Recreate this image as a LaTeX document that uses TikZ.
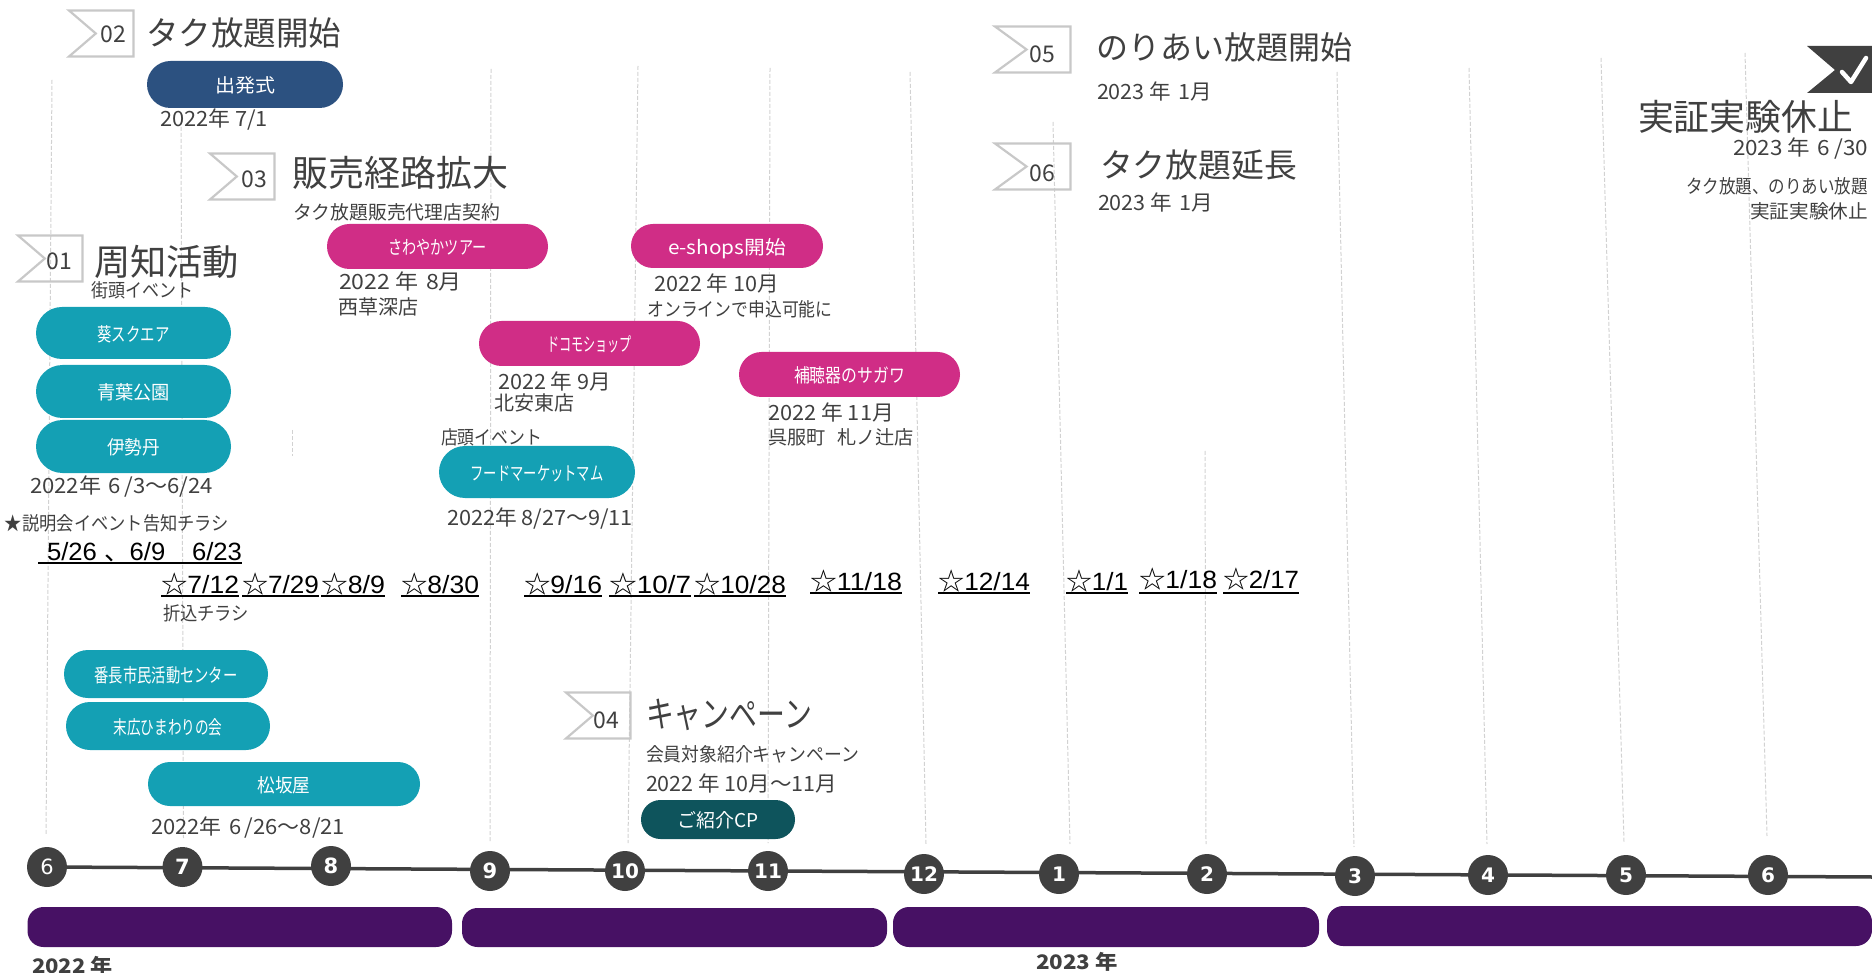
\documentclass[tikz,border=0pt]{standalone}
\usepackage{fontspec}
\usetikzlibrary{backgrounds}
\setmainfont{Noto Sans CJK JP}
\newfontfamily\arialf{Liberation Sans}
\newfontfamily\dejaf{DejaVu Sans}
\definecolor{ink}{HTML}{404040}
\definecolor{guidec}{HTML}{D2D2D2}
\definecolor{flagc}{HTML}{C8C8C8}
\definecolor{tealc}{HTML}{14A0B4}
\definecolor{pinkc}{HTML}{D02D86}
\definecolor{navyc}{HTML}{2C5180}
\definecolor{darktealc}{HTML}{0E545C}
\definecolor{purplec}{HTML}{471164}
\tikzset{
  txt/.style={inner sep=0pt,outer sep=0pt,text=ink,anchor=west},
  guide/.style={draw=guidec,line width=1pt,dash pattern=on 4pt off 2pt},
  flagline/.style={draw=flagc,line width=2.2pt,miter limit=10},
  axisline/.style={draw=ink,line width=3.5pt},
  monthdot/.style={circle,fill=ink,draw=none,minimum size=40pt,inner sep=0pt,outer sep=0pt,text=white},
  pillbase/.style={inner sep=0pt,outer sep=0pt,text=white,draw=none},
  ulrule/.style={draw=black,line width=1.3pt},
}
% name, left x, centre y, width, size, text
\newcommand{\mylab}[6]{\node[txt,yshift=-1pt] (#1) at (#2,#3) {\resizebox{#4pt}{\height}{\fontsize{#5}{#5}\selectfont\vphantom{漢}#6}};}
% name, colour, x1,y1,x2,y2, text width, text
\newcommand{\mypill}[8]{%
  \pgfmathsetmacro{\pw}{#5-#3}\pgfmathsetmacro{\ph}{#6-#4}%
  \pgfmathsetmacro{\pr}{\ph/2-0.01}\pgfmathsetmacro{\pcx}{(#3+#5)/2}\pgfmathsetmacro{\pcy}{(#4+#6)/2}%
  \node[pillbase,fill=#2,minimum width=\pw pt,minimum height=\ph pt,rounded corners=\pr pt] (#1) at (\pcx,\pcy)
    {\smash{\raisebox{-8.2pt}{\resizebox{#7pt}{\height}{\fontsize{19}{19}\selectfont\vphantom{漢}#8}}}};}
% name, x1,y1,x2,y2
\newcommand{\mybar}[5]{%
  \pgfmathsetmacro{\pw}{#4-#2}\pgfmathsetmacro{\ph}{#5-#3}%
  \pgfmathsetmacro{\pr}{\ph/2-4}\pgfmathsetmacro{\pcx}{(#2+#4)/2}\pgfmathsetmacro{\pcy}{(#3+#5)/2}%
  \node[pillbase,fill=purplec,minimum width=\pw pt,minimum height=\ph pt,rounded corners=\pr pt] (#1) at (\pcx,\pcy) {};}
% name, x1, x2, y1, number x, number y, number
\newcommand{\myflag}[7]{%
  \pgfmathsetmacro{\fa}{#2+2}\pgfmathsetmacro{\fn}{#2+0.43*(#3-#2)}\pgfmathsetmacro{\fy}{#4+46.5}\pgfmathsetmacro{\fm}{#4+23.5}%
  \draw[flagline] (\fa,#4+0.5) -- (#3-0.5,#4+0.5) -- (#3-0.5,\fy) -- (\fa,\fy) -- (\fn,\fm) -- cycle;
  \node[txt,anchor=center] (#1) at (#5,#6) {\fontsize{23}{23}\selectfont #7};}
% name, x1, x2, centre y, rule y, text
\newcommand{\myul}[6]{%
  \pgfmathsetmacro{\uw}{#3-#2}%
  \node[txt,text=black] (#1) at (#2,#4) {\resizebox{\uw pt}{\height}{\fontsize{25}{25}\selectfont\vphantom{漢}#6}};
  \draw[ulrule] (#2,#5) -- (#3,#5);}
\begin{document}
\begin{tikzpicture}[x=1pt,y=-1pt]
\useasboundingbox (0,0) rectangle (1872,973);
% guide lines
\foreach \n/\xa/\ya/\xb/\yb in {a/52/80/46/835,b/181/127/183.5/838,c/292/430/292/456,d/491/69/490/842,e/638/66/628/843,f/770/68/768/843,g/910/72/926/844,h/1053/122/1070/844,i/1205/451/1206/844,j/1337/72/1354/847,k/1469/68/1487/844,l/1601/58/1624/842,m/1745/53/1767/836}{
  \coordinate (gt\n) at (\xa,\ya);
  \coordinate (gb\n) at (\xb,\yb);
  \draw[guide] (gt\n) -- (gb\n);
}
% flags and titles
\myflag{f02}{67}{134}{10}{113}{34}{02}
\mylab{t02}{146}{32}{195}{33}{タク放題開始}
\mypill{p1}{navyc}{147}{61}{343}{108}{60}{出発式}
\mylab{d02}{160}{119}{108}{21}{2022年 7/1}

\myflag{f03}{208}{275}{153}{254}{179}{03}
\mylab{t03}{292}{172}{216}{36}{販売経路拡大}
\mylab{s03}{293}{211}{207}{19}{タク放題販売代理店契約}
\mypill{p2}{pinkc}{327}{224}{548}{269}{98}{さわやかツアー}
\mylab{d2}{339}{281}{123}{21}{2022 年\,\,8月}
\mylab{n2}{338}{306}{80}{20}{西草深店}

\myflag{f01}{16}{83}{235}{59}{261}{01}
\mylab{t01}{94}{261}{145}{36}{周知活動}
\mylab{s01}{91}{289}{102}{19}{街頭イベント}
\mypill{p3}{tealc}{36}{307}{231}{359}{72}{葵スクエア}
\mypill{p4}{tealc}{36}{365}{231}{418}{73}{青葉公園}
\mypill{p5}{tealc}{36}{420}{231}{473}{53}{伊勢丹}
\mylab{d3}{30}{486}{183}{21}{2022年\,\,6\,/3～6/24}
\mylab{s3}{5}{522}{224}{19}{★説明会イベント告知チラシ}

\myul{u0}{47}{242}{551}{563}{{\arialf 5/26 }、{\arialf 6/9}\hspace{26pt}{\arialf 6/23}}
\draw[ulrule] (38,563) -- (47,563);
\myul{u1}{161}{239}{584}{596}{☆{\arialf 7/12}}
\myul{u2}{242}{319}{584}{596}{☆{\arialf 7/29}}
\myul{u3}{321}{385}{584}{596}{☆{\arialf 8/9}}
\myul{u4}{401}{479}{584}{596}{☆{\arialf 8/30}}
\myul{u5}{524}{602}{584}{596}{☆{\arialf 9/16}}
\myul{u6}{609}{691}{584}{596}{☆{\arialf 10/7}}
\myul{u7}{694}{786}{584}{596}{☆{\arialf 10/28}}
\myul{u8}{810}{902}{581}{593}{☆{\arialf 11/18}}
\myul{u9}{938}{1030}{581}{593}{☆{\arialf 12/14}}
\myul{u10}{1066}{1128}{581}{593}{☆{\arialf 1/1}}
\myul{u11}{1139}{1217}{579}{593}{☆{\arialf 1/18}}
\myul{u12}{1223}{1299}{579}{593}{☆{\arialf 2/17}}
\mylab{s4}{163}{612}{86}{19}{折込チラシ}

\mypill{p6}{tealc}{64}{650}{268}{698}{143}{番長市民活動センター}
\mypill{p7}{tealc}{66}{702}{270}{750}{109}{末広ひまわりの会}
\mypill{p8}{tealc}{148}{762}{420}{806}{53}{松坂屋}
\mylab{d8}{151}{827}{194}{21}{2022年\,\,6\,/26～8/21}

\mypill{p9}{pinkc}{631}{224}{823}{268}{118}{e-shops開始}
\mylab{d9}{654}{283}{125}{21}{2022 年 10月}
\mylab{n9}{647.5}{308}{185}{19}{オンラインで申込可能に}
\mypill{p10}{pinkc}{479}{321}{700}{366}{85}{ドコモショップ}
\mylab{d10}{498}{381}{113}{21}{2022 年 9月}
\mylab{n10}{494}{402}{80}{20}{北安東店}
\mylab{s10}{441}{436}{101}{19}{店頭イベント}
\mypill{p11}{tealc}{439}{446}{635}{498}{133}{フードマーケットマム}
\mylab{d11}{447}{518}{186}{21}{2022年 8/27～9/11}
\mypill{p12}{pinkc}{739}{352}{960}{397}{111}{補聴器のサガワ}
\mylab{d12}{768}{411}{126}{21}{2022 年 11月}
\mylab{n12}{768}{436}{146}{19}{呉服町\hspace{.6em}札ノ辻店}

\myflag{f04}{564}{631}{692}{606}{720}{04}
\mylab{t04}{646}{713}{166}{36}{キャンペーン}
\mylab{s04}{646}{753}{213}{19}{会員対象紹介キャンペーン}
\mylab{d04}{646}{782}{191}{21}{2022 年 10月～11月}
\mypill{p13}{darktealc}{641}{800}{795}{839}{81}{ご紹介CP}

\myflag{f05}{993}{1071}{26}{1042}{54}{05}
\mylab{t05}{1096}{46}{256}{32}{のりあい放題開始}
\mylab{d05}{1097}{91}{115}{21}{2023 年\,\,1月}
\myflag{f06}{993}{1071}{143}{1042}{173}{06}
\mylab{t06}{1100}{164}{197}{33}{タク放題延長}
\mylab{d06}{1098}{202}{115}{21}{2023 年\,\,1月}

% end flag with tick
\fill[ink] (1807,46) -- (1872,46) -- (1872,93) -- (1807,93) -- (1835,70) -- cycle;
\draw[white,line width=4.5pt,line cap=round,line join=round] (1842,72) -- (1851,82) -- (1866,58);
\mylab{t07}{1638}{116}{215}{36}{実証実験休止}
\mylab{d07}{1733}{148}{135}{21}{2023 年\,\,6\,/30}
\mylab{s07}{1686}{185}{182}{19}{タク放題、のりあい放題}
\mylab{s08}{1750}{210}{118}{19}{実証実験休止}

% time axis
\node[monthdot] (m6) at (47,867) {\fontsize{21}{21}\dejaf\selectfont 6};
\node[monthdot] (m7) at (182.5,867) {\fontsize{21}{21}\dejaf\bfseries\selectfont 7};
\node[monthdot] (m8) at (331,866) {\fontsize{21}{21}\dejaf\bfseries\selectfont 8};
\node[monthdot] (m9) at (490,871) {\fontsize{21}{21}\dejaf\bfseries\selectfont 9};
\node[monthdot] (m10) at (625,871) {\fontsize{20}{20}\dejaf\bfseries\selectfont 10};
\node[monthdot] (m11) at (768,871) {\fontsize{20}{20}\dejaf\bfseries\selectfont 11};
\node[monthdot] (m12) at (924,874) {\fontsize{20}{20}\dejaf\bfseries\selectfont 12};
\node[monthdot] (m1) at (1059,874) {\fontsize{20}{20}\dejaf\bfseries\selectfont 1};
\node[monthdot] (m2) at (1207,874) {\fontsize{20}{20}\dejaf\bfseries\selectfont 2};
\node[monthdot] (m3) at (1355,876) {\fontsize{20}{20}\dejaf\bfseries\selectfont 3};
\node[monthdot] (m4) at (1488,875) {\fontsize{20}{20}\dejaf\bfseries\selectfont 4};
\node[monthdot] (m5) at (1626,875) {\fontsize{20}{20}\dejaf\bfseries\selectfont 5};
\node[monthdot] (m6b) at (1768,875) {\fontsize{20}{20}\dejaf\bfseries\selectfont 6};
\coordinate (axisend) at (1872,877);
\begin{pgfonlayer}{background}
\draw[axisline] (m6.center) -- (axisend);
\end{pgfonlayer}

% period bars
\mybar{b1}{27.5}{907}{452}{947}
\mybar{b2}{462}{908}{887}{947}
\mybar{b3}{893}{907}{1319}{947}
\mybar{b4}{1327}{906}{1872}{946}
\mylab{y22}{32}{965}{81}{20}{\bfseries 2022 年}
\mylab{y23}{1036}{961}{82}{20}{\bfseries 2023 年}
\end{tikzpicture}
\end{document}
